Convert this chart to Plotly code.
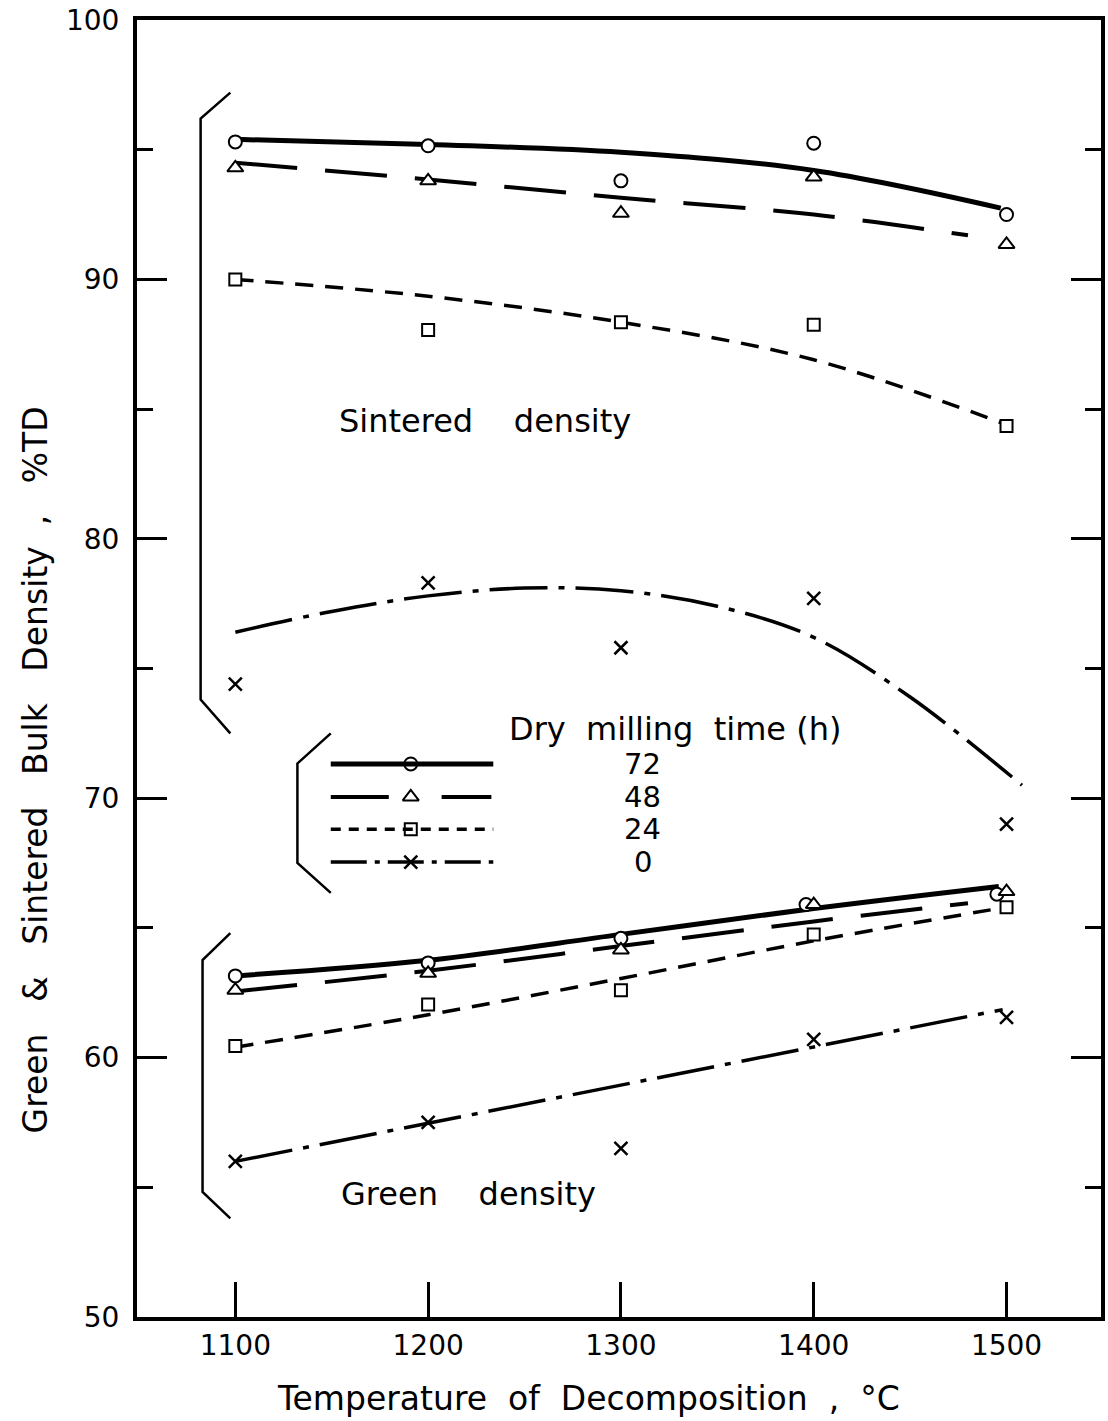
import plotly.graph_objects as go

# Decomposition temperatures (degC)
temps = [1100, 1200, 1300, 1400, 1500]

# Sintered density (%TD) measured points, by dry milling time
sint_72 = [95.3, 95.15, 93.8, 95.25, 92.5]
sint_48 = [94.3, 93.8, 92.55, 93.95, 91.35]
sint_24 = [90.0, 88.05, 88.35, 88.25, 84.35]
sint_0 = [74.4, 78.3, 75.8, 77.7, 69.0]

# Green density (%TD) measured points
green_72_x = [1100, 1200, 1300, 1396, 1495]
green_72 = [63.15, 63.65, 64.6, 65.9, 66.3]
green_48 = [62.6, 63.25, 64.15, 65.9, 66.4]
green_24 = [60.45, 62.05, 62.6, 64.75, 65.8]
green_0 = [56.0, 57.5, 56.5, 60.7, 61.55]

# Smoothed trend curves
fit_s72_x = [1100, 1200, 1300, 1400, 1497]
fit_s72_y = [95.4, 95.2, 94.9, 94.2, 92.75]
fit_s48_x = [1100, 1200, 1300, 1400, 1480]
fit_s48_y = [94.5, 93.85, 93.15, 92.5, 91.7]
fit_s24_x = [1100, 1200, 1300, 1400, 1500]
fit_s24_y = [90.0, 89.35, 88.35, 86.9, 84.4]
fit_s0_x = [1100, 1150, 1200, 1250, 1300, 1350, 1400, 1450, 1508]
fit_s0_y = [76.4, 77.2, 77.8, 78.1, 78.0, 77.4, 76.2, 73.9, 70.5]

fit_g72_x = [1100, 1200, 1300, 1400, 1496]
fit_g72_y = [63.15, 63.75, 64.75, 65.75, 66.6]
fit_g48_x = [1100, 1200, 1300, 1400, 1480]
fit_g48_y = [62.55, 63.35, 64.3, 65.25, 65.95]
fit_g24_x = [1100, 1200, 1300, 1400, 1500]
fit_g24_y = [60.4, 61.65, 63.05, 64.5, 65.8]
fit_g0_x = [1100, 1498]
fit_g0_y = [56.0, 61.85]

milling_labels = ["72", "48", "24", "0"]
y_ticks = [50, 60, 70, 80, 90, 100]
x_ticks = [1100, 1200, 1300, 1400, 1500]

FONT = "DejaVu Sans"
BLACK = "black"
NB = "\u00a0"

styles = {
    "72": dict(width=5, dash="solid", symbol="circle", size=13),
    "48": dict(width=4, dash="62px,28px", symbol="triangle-up", size=14),
    "24": dict(width=3.5, dash="18px,12px", symbol="square", size=12),
    "0": dict(width=3.5, dash="58px,11px,6px,11px", symbol="x-thin", size=13),
}

fig = go.Figure()


def add_curve(xs, ys, key):
    st = styles[key]
    fig.add_trace(go.Scatter(
        x=xs, y=ys, mode="lines", showlegend=False, hoverinfo="skip",
        line=dict(color=BLACK, width=st["width"], dash=st["dash"], shape="spline", smoothing=1.0),
    ))


def add_points(xs, ys, key):
    st = styles[key]
    if st["symbol"] == "x-thin":
        marker = dict(symbol="x-thin", size=st["size"], line=dict(color=BLACK, width=2.5), color=BLACK)
    else:
        marker = dict(symbol=st["symbol"], size=st["size"], color="white", line=dict(color=BLACK, width=2))
    fig.add_trace(go.Scatter(x=xs, y=ys, mode="markers", showlegend=False, marker=marker))


# trend curves
add_curve(fit_s72_x, fit_s72_y, "72")
add_curve(fit_s48_x, fit_s48_y, "48")
add_curve(fit_s24_x, fit_s24_y, "24")
add_curve(fit_s0_x, fit_s0_y, "0")
add_curve(fit_g72_x, fit_g72_y, "72")
add_curve(fit_g48_x, fit_g48_y, "48")
add_curve(fit_g24_x, fit_g24_y, "24")
add_curve(fit_g0_x, fit_g0_y, "0")

# measured points
add_points(temps, sint_72, "72")
add_points(temps, sint_48, "48")
add_points(temps, sint_24, "24")
add_points(temps, sint_0, "0")
add_points(green_72_x, green_72, "72")
add_points(temps, green_48, "48")
add_points(temps, green_24, "24")
add_points(temps, green_0, "0")

shapes = []

# group brackets
def bracket(x_tip, x_back, y_top, y_corner_top, y_corner_bot, y_bot):
    return dict(
        type="path", xref="x", yref="y",
        path=f"M {x_tip},{y_top} L {x_back},{y_corner_top} L {x_back},{y_corner_bot} L {x_tip},{y_bot}",
        line=dict(color=BLACK, width=2.5),
    )

shapes.append(bracket(1097.4, 1082.0, 97.2, 96.2, 73.8, 72.5))
shapes.append(bracket(1097.4, 1083.0, 64.8, 63.76, 54.82, 53.8))
shapes.append(bracket(1149.5, 1132.2, 72.5, 71.34, 67.5, 66.35))

# legend samples
leg_x0, leg_x1, leg_mx = 1149.5, 1233.8, 1191
leg_rows = [71.32, 70.05, 68.8, 67.54]
shapes.append(dict(type="line", xref="x", yref="y", x0=leg_x0, x1=leg_x1, y0=leg_rows[0], y1=leg_rows[0],
                   line=dict(color=BLACK, width=5)))
shapes.append(dict(type="line", xref="x", yref="y", x0=leg_x0, x1=1179.6, y0=leg_rows[1], y1=leg_rows[1],
                   line=dict(color=BLACK, width=4)))
shapes.append(dict(type="line", xref="x", yref="y", x0=1207.0, x1=1232.8, y0=leg_rows[1], y1=leg_rows[1],
                   line=dict(color=BLACK, width=4)))
shapes.append(dict(type="line", xref="x", yref="y", x0=leg_x0, x1=leg_x1, y0=leg_rows[2], y1=leg_rows[2],
                   line=dict(color=BLACK, width=3.5, dash="10px,8px")))
shapes.append(dict(type="line", xref="x", yref="y", x0=leg_x0, x1=leg_x1, y0=leg_rows[3], y1=leg_rows[3],
                   line=dict(color=BLACK, width=3.5, dash="36px,8px,5px,8px")))
fig.update_layout(shapes=shapes)

for key, yv in zip(milling_labels, leg_rows):
    add_points([leg_mx], [yv], key)

annotations = []
text_font = dict(family=FONT, size=32, color=BLACK)
annotations.append(dict(x=1229.7, y=84.54, xref="x", yref="y", showarrow=False,
                        xanchor="center", yanchor="middle",
                        text=f"Sintered{NB*4}density", font=text_font))
annotations.append(dict(x=1221, y=54.75, xref="x", yref="y", showarrow=False,
                        xanchor="center", yanchor="middle",
                        text=f"Green{NB*4}density", font=text_font))
annotations.append(dict(x=1328, y=72.65, xref="x", yref="y", showarrow=False,
                        xanchor="center", yanchor="middle",
                        text=f"Dry{NB*2}milling{NB*2}time{NB}(h)", font=text_font))
for lab, yv in zip(milling_labels, leg_rows):
    annotations.append(dict(x=1311.4, y=yv, xref="x", yref="y", showarrow=False,
                            xanchor="center", yanchor="middle",
                            text=lab, font=dict(family=FONT, size=29, color=BLACK)))

# axis titles
annotations.append(dict(x=590, y=1398, xref="paper", yref="paper", showarrow=False,
                        xanchor="center", yanchor="middle",
                        text=f"Temperature{NB*2}of{NB*2}Decomposition{NB*2},{NB*2}°C",
                        font=dict(family=FONT, size=33, color=BLACK)))
annotations.append(dict(x=35, y=770, xref="paper", yref="paper", showarrow=False, textangle=-90,
                        xanchor="center", yanchor="middle",
                        text=f"Green{NB*3}&{NB*3}Sintered{NB*3}Bulk{NB*3}Density{NB*2},{NB*3}%TD",
                        font=dict(family=FONT, size=33, color=BLACK)))

W, H = 1108, 1421
ML, MR, MT, MB = 137, 3, 20, 104
# convert pixel-style title placements to paper fractions
for a in annotations[-2:]:
    a["x"] = (a["x"] - ML) / (W - ML - MR)
    a["y"] = 1 - (a["y"] - MT) / (H - MT - MB)

fig.update_layout(
    annotations=annotations,
    width=W, height=H,
    margin=dict(l=ML, r=MR, t=MT, b=MB),
    paper_bgcolor="white", plot_bgcolor="white",
    font=dict(family=FONT, color=BLACK),
    xaxis=dict(
        range=[1049, 1549], tickvals=x_ticks, ticks="inside", ticklen=35, tickwidth=2.5, tickcolor=BLACK,
        showline=True, linewidth=4, linecolor=BLACK, mirror=True, showgrid=False, zeroline=False,
        tickfont=dict(family=FONT, size=28, color=BLACK),
    ),
    yaxis=dict(
        range=[50, 100], tickvals=y_ticks, ticks="inside", ticklen=30, tickwidth=2.5, tickcolor=BLACK,
        showline=True, linewidth=4, linecolor=BLACK, mirror="ticks", showgrid=False, zeroline=False,
        tickfont=dict(family=FONT, size=28, color=BLACK), ticklabelstandoff=8,
        minor=dict(tickvals=[55, 65, 75, 85, 95], ticks="inside", ticklen=16, tickwidth=2.5, tickcolor=BLACK,
                   showgrid=False),
    ),
)

fig.write_html("out.html")
